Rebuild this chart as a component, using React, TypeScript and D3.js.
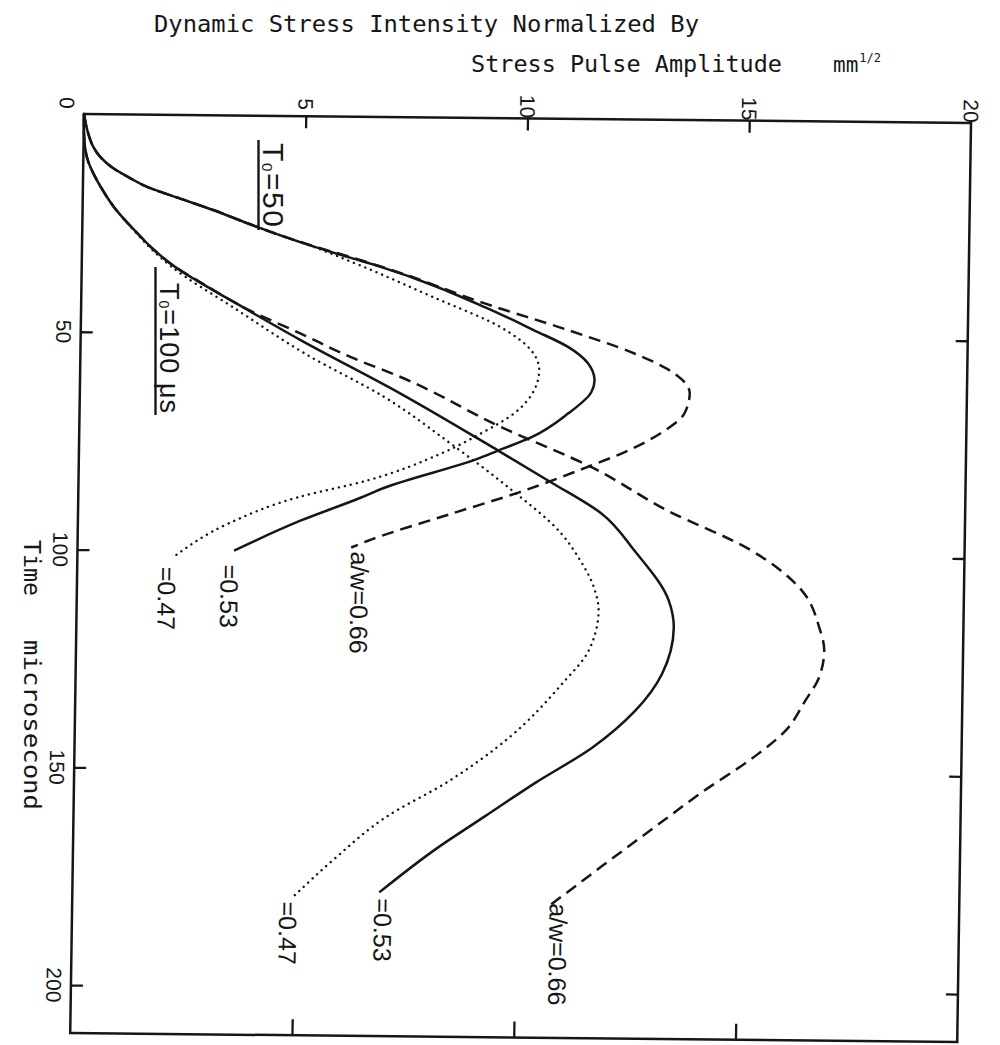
import { useEffect, useRef } from 'react';
import * as d3 from 'd3';

// stress intensity axis (mm^1/2) runs across the page, time (microsecond) runs down
const stressTicks = [0, 5, 10, 15, 20];
const timeTicks = [0, 50, 100, 150, 200];

// pulse duration T0 = 50 us
const t50_047 = [0, 4.4, 7.5, 9.8, 12.4, 14.6, 16.6, 19.2, 21.8, 24.7, 27.4, 29.9, 33.6, 41.3, 48, 53.2, 57.8, 62.4, 67.7, 72.4, 77.1, 83.5, 87.5, 93.7, 101];
const k50_047 = [0, 0.1, 0.22, 0.38, 0.68, 1.06, 1.45, 2.2, 2.96, 3.72, 4.47, 5.2, 6.15, 7.95, 9.47, 10.16, 10.35, 10.24, 9.8, 9.06, 8.17, 6.5, 4.95, 3.39, 2.23];

const t50_053 = [0, 4.4, 7.5, 9.8, 12.4, 14.6, 16.6, 19.2, 21.8, 24.7, 27.4, 29.9, 32.2, 34.4, 43.4, 48.6, 52.4, 56.1, 60, 62.7, 67.6, 73.2, 76.3, 78.2, 85.1, 87.4, 92.8, 99.9];
const k50_053 = [0, 0.1, 0.22, 0.38, 0.68, 1.06, 1.45, 2.2, 2.96, 3.72, 4.47, 5.23, 5.99, 6.74, 9.1, 10.22, 11.0, 11.45, 11.6, 11.53, 11.02, 10.19, 9.45, 9.0, 6.9, 6.38, 5.03, 3.53];

const t50_066 = [0, 4.4, 7.5, 9.8, 12.4, 14.6, 16.6, 19.2, 21.8, 24.7, 27.4, 29.9, 32.2, 35.8, 42.5, 48.5, 53.7, 58.2, 62.7, 67.3, 72, 76.7, 79.5, 85.9, 90.9, 97.3, 98.9];
const k50_066 = [0, 0.1, 0.22, 0.38, 0.68, 1.06, 1.45, 2.2, 2.96, 3.72, 4.47, 5.25, 6.05, 7.2, 9.08, 10.99, 12.49, 13.4, 13.75, 13.64, 13.1, 12.23, 11.56, 9.92, 8.42, 6.55, 6.17];

// pulse duration T0 = 100 us
const t100_047 = [0, 4, 8, 10.6, 13.6, 17, 21.2, 27.2, 31, 34.8, 44.5, 54.7, 64.3, 74.9, 84.7, 95.3, 100.7, 108.2, 112.8, 122, 129.7, 142.2, 152.3, 160.8, 170.2, 179.4];
const k100_047 = [0, 0.005, 0.04, 0.1, 0.23, 0.42, 0.7, 1.22, 1.58, 2.02, 3.5, 5.1, 6.87, 8.39, 9.69, 10.91, 11.3, 11.68, 11.77, 11.56, 10.97, 9.79, 8.45, 7.03, 5.92, 4.96];

const t100_053 = [0, 4, 8, 10.6, 13.6, 17, 21.2, 27.2, 31, 35, 38, 42.4, 51.4, 63.5, 76.3, 83.5, 90.5, 99, 110.4, 116.6, 127.2, 135.7, 144.3, 152.5, 160.2, 168, 178];
const k100_053 = [0, 0.005, 0.04, 0.1, 0.23, 0.42, 0.7, 1.24, 1.62, 2.12, 2.6, 3.37, 4.96, 7.24, 9.45, 10.66, 11.8, 12.56, 13.35, 13.47, 13.22, 12.63, 11.67, 10.4, 9.29, 8.17, 6.92];

const t100_066 = [0, 4, 8, 10.6, 13.6, 17, 21.2, 27.2, 31, 35, 38, 44.7, 49.9, 55.2, 59.7, 70.9, 79.9, 89.8, 98.3, 107.8, 116.2, 121.5, 127.7, 133, 140, 146.3, 154.2, 160.5, 171.4, 181];
const k100_066 = [0, 0.005, 0.04, 0.1, 0.23, 0.42, 0.7, 1.24, 1.62, 2.12, 2.62, 3.8, 4.96, 6.1, 7.24, 9.51, 11.56, 13.31, 15.13, 16.35, 16.75, 16.87, 16.76, 16.46, 16.02, 15.29, 14.17, 13.35, 11.94, 10.72];

const curveLabels = ['=0.47', '=0.53', 'a/w=0.66'];

const ink = '#161616';

const App = () => {
  const svgRef = useRef<SVGSVGElement>(null);

  useEffect(() => {
    drawChart();
  }, []);

  const drawChart = () => {
    const plotW = 887;
    const plotH = 919;

    const svg = d3.select(svgRef.current);
    svg.selectAll('*').remove();

    svg.append('rect').attr('width', 1000).attr('height', 1045).attr('fill', '#fff');

    const x = d3.scaleLinear().domain([0, 20]).range([0, plotW]);
    const y = d3.scaleLinear().domain([0, 211]).range([0, plotH]);

    // the scanned frame is a little skewed
    const g = svg.append('g')
      .attr('transform', 'matrix(1 0.0101 -0.015 1 84 114)');

    g.append('rect')
      .attr('width', plotW)
      .attr('height', plotH)
      .attr('fill', 'none')
      .attr('stroke', ink)
      .attr('stroke-width', 2.5);

    const inner = stressTicks.slice(1, -1);
    const timeInner = timeTicks.slice(1);

    const styleAxis = (sel: any) => {
      sel.select('.domain').remove();
      sel.selectAll('text').remove();
      sel.attr('color', ink).selectAll('line').attr('stroke-width', 2.3);
    };

    g.append('g')
      .call(d3.axisTop(x).tickValues(inner).tickSize(-12).tickFormat(() => ''))
      .call(styleAxis);
    g.append('g')
      .attr('transform', `translate(0,${plotH})`)
      .call(d3.axisBottom(x).tickValues(inner).tickSize(-16).tickFormat(() => ''))
      .call(styleAxis);
    g.append('g')
      .call(d3.axisLeft(y).tickValues(timeInner).tickSize(-12).tickFormat(() => ''))
      .call(styleAxis);
    g.append('g')
      .attr('transform', `translate(${plotW},0)`)
      .call(d3.axisRight(y).tickValues(timeInner).tickSize(-12).tickFormat(() => ''))
      .call(styleAxis);

    // tick labels, turned a quarter turn like the rest of the figure
    g.selectAll('.klab')
      .data(inner.concat([20]))
      .enter().append('text')
      .attr('class', 'klab')
      .attr('transform', d => `translate(${x(d)},-12) rotate(90)`)
      .attr('text-anchor', 'middle')
      .attr('dominant-baseline', 'central')
      .attr('font-family', 'Liberation Sans, Arial, sans-serif')
      .attr('font-size', 21)
      .attr('fill', ink)
      .text(d => d);

    g.selectAll('.tlab')
      .data(timeTicks)
      .enter().append('text')
      .attr('class', 'tlab')
      .attr('transform', d => `translate(-17,${d === 0 ? -11 : y(d)}) rotate(90)`)
      .attr('text-anchor', 'middle')
      .attr('dominant-baseline', 'central')
      .attr('font-family', 'Liberation Sans, Arial, sans-serif')
      .attr('font-size', 21)
      .attr('fill', ink)
      .text(d => d);

    const series = [
      { time: t50_047, k: k50_047, dash: 'dot', label: curveLabels[0], dx: -18, dy: 12 },
      { time: t50_053, k: k50_053, dash: 'solid', label: curveLabels[1], dx: -13, dy: 14 },
      { time: t50_066, k: k50_066, dash: 'dash', label: curveLabels[2], dx: 0, dy: 4 },
      { time: t100_047, k: k100_047, dash: 'dot', label: curveLabels[0], dx: -13, dy: 4 },
      { time: t100_053, k: k100_053, dash: 'solid', label: curveLabels[1], dx: -5, dy: 6 },
      { time: t100_066, k: k100_066, dash: 'dash', label: curveLabels[2], dx: 2, dy: -4 },
    ];

    const line = d3.line<[number, number]>()
      .x(d => x(d[1]))
      .y(d => y(d[0]))
      .curve(d3.curveMonotoneY);

    series.forEach(s => {
      const pts = d3.zip(s.time, s.k) as [number, number][];
      g.append('path')
        .datum(pts)
        .attr('d', line)
        .attr('fill', 'none')
        .attr('stroke', ink)
        .attr('stroke-width', s.dash === 'dot' ? 2.4 : 2.5)
        .attr('stroke-linecap', s.dash === 'dot' ? 'round' : 'butt')
        .attr('stroke-dasharray', s.dash === 'dot' ? '0.1 6' : s.dash === 'dash' ? '12 7' : null);

      const last = pts[pts.length - 1];
      g.append('text')
        .attr('transform', `translate(${x(last[1]) + s.dx},${y(last[0]) + s.dy}) rotate(90)`)
        .attr('text-anchor', 'start')
        .attr('font-family', 'Liberation Sans, Arial, sans-serif')
        .attr('font-size', 25)
        .attr('fill', ink)
        .text(s.label);
    });

    // pulse duration notes
    const t50 = svg.append('g').attr('transform', 'translate(263,143) rotate(90)');
    const t50Text = t50.append('text')
      .attr('font-family', 'Liberation Sans, Arial, sans-serif')
      .attr('font-size', 30)
      .attr('fill', ink)
      .attr('textLength', 84);
    t50Text.append('tspan').text('T');
    t50Text.append('tspan').attr('font-size', 15).attr('dy', 1).text('0');
    t50Text.append('tspan').attr('dy', -1).text('=50');
    t50.append('line').attr('x1', -3).attr('x2', 87).attr('y1', 4.5).attr('y2', 4.5)
      .attr('stroke', ink).attr('stroke-width', 2.4);

    const t100 = svg.append('g').attr('transform', 'translate(160,283) rotate(90)');
    const t100Text = t100.append('text')
      .attr('font-family', 'Liberation Sans, Arial, sans-serif')
      .attr('font-size', 27)
      .attr('fill', ink)
      .attr('textLength', 130);
    t100Text.append('tspan').text('T');
    t100Text.append('tspan').attr('font-size', 14).attr('dy', 1).text('0');
    t100Text.append('tspan').attr('dy', -1).text('=100 μs');
    t100.append('line').attr('x1', -16).attr('x2', 132).attr('y1', 4.5).attr('y2', 4.5)
      .attr('stroke', ink).attr('stroke-width', 2.4);

    // axis titles
    const mono = 'DejaVu Sans Mono, Liberation Mono, monospace';
    svg.append('text')
      .attr('x', 154).attr('y', 32)
      .attr('font-family', mono).attr('font-size', 23).attr('fill', ink)
      .attr('textLength', 545).attr('lengthAdjust', 'spacingAndGlyphs')
      .text('Dynamic Stress Intensity Normalized By');
    svg.append('text')
      .attr('x', 471).attr('y', 72)
      .attr('font-family', mono).attr('font-size', 23).attr('fill', ink)
      .attr('textLength', 311).attr('lengthAdjust', 'spacingAndGlyphs')
      .text('Stress Pulse Amplitude');
    const unit = svg.append('text')
      .attr('x', 833).attr('y', 72)
      .attr('font-family', mono).attr('font-size', 21).attr('fill', ink);
    unit.append('tspan').text('mm');
    unit.append('tspan').attr('font-size', 12).attr('dy', -10).attr('dx', 1).text('1/2');

    const timeTitle = svg.append('g').attr('transform', 'translate(24,540) rotate(90)');
    timeTitle.append('text')
      .attr('font-family', mono).attr('font-size', 23).attr('fill', ink)
      .attr('textLength', 56).attr('lengthAdjust', 'spacingAndGlyphs')
      .text('Time');
    timeTitle.append('text')
      .attr('x', 100)
      .attr('font-family', mono).attr('font-size', 23).attr('fill', ink)
      .attr('textLength', 170).attr('lengthAdjust', 'spacingAndGlyphs')
      .text('microsecond');
  };

  return (
    <svg
      ref={svgRef}
      width={1000}
      height={1045}
      style={{ position: 'absolute', left: 0, top: 0 }}
    />
  );
};

export default App;
